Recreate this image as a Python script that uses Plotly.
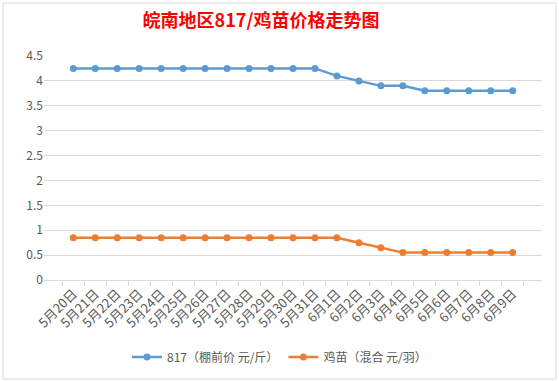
import plotly.graph_objects as go

dates = ["5月20日", "5月21日", "5月22日", "5月23日", "5月24日", "5月25日", "5月26日",
         "5月27日", "5月28日", "5月29日", "5月30日", "5月31日", "6月1日", "6月2日",
         "6月3日", "6月4日", "6月5日", "6月6日", "6月7日", "6月8日", "6月9日"]
price_817 = [4.25, 4.25, 4.25, 4.25, 4.25, 4.25, 4.25, 4.25, 4.25, 4.25, 4.25, 4.25,
             4.1, 4.0, 3.9, 3.9, 3.8, 3.8, 3.8, 3.8, 3.8]
price_chick = [0.85, 0.85, 0.85, 0.85, 0.85, 0.85, 0.85, 0.85, 0.85, 0.85, 0.85, 0.85,
               0.85, 0.75, 0.65, 0.55, 0.55, 0.55, 0.55, 0.55, 0.55]
name_817 = "817（棚前价 元/斤）"
name_chick = "鸡苗（混合 元/羽）"
title = "皖南地区817/鸡苗价格走势图"
y_ticks = [0, 0.5, 1, 1.5, 2, 2.5, 3, 3.5, 4, 4.5]
y_labels = ["0", "0.5", "1", "1.5", "2", "2.5", "3", "3.5", "4", "4.5"]

font_family = "Noto Sans CJK SC, Noto Sans, sans-serif"

fig = go.Figure()
fig.add_trace(go.Scatter(x=dates, y=price_817, name=name_817, mode="lines+markers",
                         line=dict(color="#5B9BD5", width=2.5),
                         marker=dict(color="#5B9BD5", size=7)))
fig.add_trace(go.Scatter(x=dates, y=price_chick, name=name_chick, mode="lines+markers",
                         line=dict(color="#ED7D31", width=2.5),
                         marker=dict(color="#ED7D31", size=7)))

fig.update_layout(
    width=559, height=381,
    margin=dict(l=44, r=17, t=56, b=101, autoexpand=False),
    paper_bgcolor="white", plot_bgcolor="white",
    font=dict(family=font_family, color="#595959", size=12),
    title=dict(text=title, x=261/559, xanchor="center", y=1 - 21/381, yanchor="middle",
               xref="container", yref="container",
               font=dict(family=font_family, size=18, color="#FF0000", weight="bold")),
    showlegend=True,
    legend=dict(orientation="h", x=0.5, xanchor="center", y=(381-357)/381, yanchor="middle",
                xref="container", yref="container",
                font=dict(size=12, color="#595959"), itemwidth=30),
    xaxis=dict(type="category", tickangle=-45, showgrid=False, automargin=False,
               showline=True, linecolor="#d9d9d9", linewidth=1,
               ticks="outside", tickson="boundaries", ticklen=5, tickcolor="#d9d9d9",
               tickfont=dict(size=13, color="#595959")),
    yaxis=dict(range=[0, 4.5], tickvals=y_ticks, ticktext=y_labels, automargin=False,
               showgrid=True, gridcolor="#d9d9d9", gridwidth=1,
               zeroline=False, showline=False, ticks="",
               tickfont=dict(size=12, color="#595959")),
    shapes=[dict(type="rect", xref="paper", yref="paper",
                 x0=-41/498, x1=(556-44)/498, y0=-(379-280)/224, y1=(280-3)/224,
                 line=dict(color="#d9d9d9", width=1), fillcolor="rgba(0,0,0,0)",
                 layer="below")],
)

fig.write_html("out.html", post_script="document.body.style.margin='0';",
               config={"displayModeBar": False})
